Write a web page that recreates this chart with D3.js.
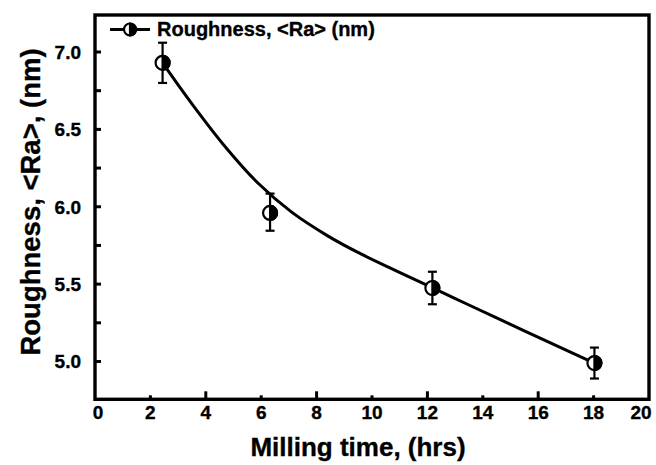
<!DOCTYPE html>
<html>
<head>
<meta charset="utf-8">
<script src="https://cdn.jsdelivr.net/npm/d3@7"></script>
<style>
  html, body { margin: 0; padding: 0; background: #fff; }
  svg { display: block; font-family: "Liberation Sans", Arial, sans-serif; font-weight: bold; }
  svg text { stroke: #000; stroke-width: 0.35px; }
</style>
</head>
<body>
<svg id="chart" width="656" height="465"></svg>
<script>
// Measured points
const millingTime = [2.44, 6.32, 12.18, 18.03];
const roughness   = [6.93, 5.96, 5.475, 4.99];
const errLow      = [6.80, 5.845, 5.37, 4.89];
const errHigh     = [7.06, 6.085, 5.58, 5.09];

// Fitted curve
const curveX = [2.44, 3.5, 4.7, 5.9, 7.1, 8.4, 9.6, 10.8, 12.0, 13.5, 15.0, 16.5, 18.03];
const curveY = [6.93, 6.665, 6.388, 6.15, 5.965, 5.812, 5.695, 5.592, 5.492, 5.365, 5.24, 5.115, 4.99];

const xTicks = [0, 2, 4, 6, 8, 10, 12, 14, 16, 18, 20];
const xMajor = [4, 8, 12, 16];
const yTicks = [5.0, 5.5, 6.0, 6.5, 7.0];
const yMinor = [5.25, 5.75, 6.25, 6.75];

const legendLabel = "Roughness, <Ra> (nm)";
const xTitle = "Milling time, (hrs)";
const yTitle = "Roughness, <Ra>, (nm)";

const svg = d3.select("#chart");
const L = 95, R = 649, T = 15, B = 399.3;

const x = d3.scaleLinear().domain([0, 20]).range([L, R]);
const y = d3.scaleLinear().domain([5.0, 7.0]).range([361.5, 52]);

// x ticks (inside)
const gx = svg.append("g");
gx.selectAll("line").data(xTicks.filter(d => d > 0 && d < 20)).enter().append("line")
  .attr("x1", d => x(d)).attr("x2", d => x(d))
  .attr("y1", B).attr("y2", d => B - (xMajor.includes(d) ? 8 : 4))
  .attr("stroke", "#000").attr("stroke-width", 3);
gx.selectAll("text").data(xTicks).enter().append("text")
  .attr("x", d => x(d) + (d === 0 ? 3 : d === 20 ? -8 : 0)).attr("y", 419)
  .attr("text-anchor", "middle").attr("font-size", 19)
  .text(d => d);

// y ticks (inside)
const gy = svg.append("g");
gy.selectAll("line").data(yTicks.concat(yMinor)).enter().append("line")
  .attr("x1", L).attr("x2", L + 6)
  .attr("y1", d => y(d)).attr("y2", d => y(d))
  .attr("stroke", "#000").attr("stroke-width", 3);
gy.selectAll("text").data(yTicks).enter().append("text")
  .attr("x", 81).attr("y", d => y(d)).attr("dy", "0.36em")
  .attr("text-anchor", "end").attr("font-size", 19)
  .text(d => d.toFixed(1));

// frame
svg.append("rect").attr("x", L).attr("y", T).attr("width", R - L).attr("height", B - T)
  .attr("fill", "none").attr("stroke", "#000").attr("stroke-width", 3.4);

// axis titles
svg.append("text").attr("x", 358).attr("y", 456).attr("text-anchor", "middle")
  .attr("font-size", 26).text(xTitle);
svg.append("text").attr("transform", "translate(40,202) rotate(-90)")
  .attr("text-anchor", "middle").attr("font-size", 27.5).text(yTitle);

// curve
const curveData = curveX.map((d, i) => [d, curveY[i]]);
svg.append("path").datum(curveData)
  .attr("fill", "none").attr("stroke", "#000").attr("stroke-width", 3)
  .attr("d", d3.line().x(d => x(d[0])).y(d => y(d[1])).curve(d3.curveCatmullRom.alpha(0.5)));

// error bars
const pts = millingTime.map((d, i) => ({ t: d, r: roughness[i], lo: errLow[i], hi: errHigh[i] }));
const eb = svg.append("g").attr("stroke", "#000").attr("stroke-width", 2.2);
eb.selectAll(".v").data(pts).enter().append("line")
  .attr("x1", d => x(d.t)).attr("x2", d => x(d.t))
  .attr("y1", d => y(d.lo)).attr("y2", d => y(d.hi));
eb.selectAll(".c1").data(pts).enter().append("line")
  .attr("x1", d => x(d.t) - 4.5).attr("x2", d => x(d.t) + 4.5)
  .attr("y1", d => y(d.lo)).attr("y2", d => y(d.lo));
eb.selectAll(".c2").data(pts).enter().append("line")
  .attr("x1", d => x(d.t) - 4.5).attr("x2", d => x(d.t) + 4.5)
  .attr("y1", d => y(d.hi)).attr("y2", d => y(d.hi));

// half-filled marker
function marker(g, cx, cy, r) {
  g.append("circle").attr("cx", cx).attr("cy", cy).attr("r", r)
    .attr("fill", "#fff").attr("stroke", "#000").attr("stroke-width", 2.2);
  g.append("path")
    .attr("d", `M${cx},${cy - r} A${r},${r} 0 0 1 ${cx},${cy + r} Z`)
    .attr("fill", "#000").attr("stroke", "#000").attr("stroke-width", 2.2);
}
const mg = svg.append("g");
pts.forEach(d => marker(mg, x(d.t), y(d.r), 7));

// legend
const lg = svg.append("g");
lg.append("line").attr("x1", 110).attr("x2", 150).attr("y1", 29.5).attr("y2", 29.5)
  .attr("stroke", "#000").attr("stroke-width", 3.2);
marker(lg, 130, 29.5, 6);
lg.append("text").attr("x", 157).attr("y", 36).attr("font-size", 20).text(legendLabel);
</script>
</body>
</html>
